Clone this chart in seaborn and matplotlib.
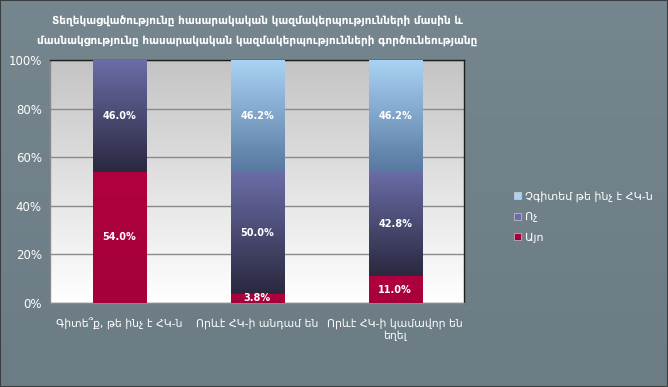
import numpy as np
import pandas as pd
import seaborn as sns
import matplotlib.pyplot as plt
import matplotlib.colors as mcolors
from matplotlib.patches import Patch

categories = ["Գիտե՞ք, թե ինչ է ՀԿ-ն", "Որևէ ՀԿ-ի անդամ են", "Որևէ ՀԿ-ի կամավոր են\nեղել"]
yes_vals = [54.0, 3.8, 11.0]
no_vals = [46.0, 50.0, 42.8]
dont_know_vals = [0.0, 46.2, 46.2]
series_names = ["Այո", "Ոչ", "Չգիտեմ թե ինչ է ՀԿ-ն"]
title = ("Տեղեկացվածությունը հասարակական կազմակերպությունների մասին և\n"
         "մասնակցությունը հասարակական կազմակերպությունների գործունեությանը")

sns.set_theme(style="white")
plt.rcParams['font.family'] = ['DejaVu Sans']

fig = plt.figure(figsize=(6.68, 3.87), dpi=100)
# background of the whole chart
bg = fig.add_axes([0, 0, 1, 1], zorder=-10)
bg_cmap = mcolors.LinearSegmentedColormap.from_list("bg", ["#76868e", "#6b7c84"])
bg.imshow(np.linspace(0, 1, 100).reshape(-1, 1), cmap=bg_cmap, aspect="auto", extent=[0, 1, 0, 1])
bg.set_xlim(0, 1)
bg.set_ylim(0, 1)
bg.axis("off")
fig.patches.append(plt.Rectangle((0, 0), 1, 1, transform=fig.transFigure, fill=False,
                                 edgecolor="#3a3f42", linewidth=1.5))

ax = fig.add_axes([0.075, 0.217, 0.620, 0.628])
ax.set_facecolor("none")

df = pd.DataFrame({
    "category": categories * 3,
    "series": [series_names[0]] * 3 + [series_names[1]] * 3 + [series_names[2]] * 3,
    "value": yes_vals + no_vals + dont_know_vals,
    "bottom": [0] * 3 + yes_vals + [a + b for a, b in zip(yes_vals, no_vals)],
})

gradients = {
    series_names[0]: ["#a5003a", "#b0023e"],
    series_names[1]: ["#2a2940", "#6a6ca6"],
    series_names[2]: ["#5878a0", "#a9d3f5"],
}

for name in series_names:
    sub = df[df["series"] == name]
    sns.barplot(data=sub, x="category", y="value", ax=ax, order=categories,
                bottom=sub["bottom"].to_numpy(), width=0.385, color=gradients[name][0],
                edgecolor="#e8d8e0", linewidth=0.6, zorder=3)

# gradient fill for each bar
names_per_patch = [n for n in series_names for _ in categories]
for patch, name in zip(ax.patches, names_per_patch):
    x0, y0 = patch.get_x(), patch.get_y()
    w, h = patch.get_width(), patch.get_height()
    if h <= 0:
        continue
    cmap = mcolors.LinearSegmentedColormap.from_list(name, gradients[name])
    im = ax.imshow(np.linspace(0, 1, 64).reshape(-1, 1), cmap=cmap, aspect="auto",
                   origin="lower", extent=[x0, x0 + w, y0, y0 + h], zorder=3.5)
    im.set_clip_path(patch)

# value labels
for patch in ax.patches:
    h = patch.get_height()
    if h <= 0:
        continue
    ax.text(patch.get_x() + patch.get_width() / 2, patch.get_y() + h / 2, f"{h:.1f}%",
            ha="center", va="center", color="white", fontsize=7, fontweight="bold", zorder=5)

# plot area gradient
area_cmap = mcolors.LinearSegmentedColormap.from_list("area", ["#ffffff", "#c4c4c4"])
ax.imshow(np.linspace(0, 1, 100).reshape(-1, 1), cmap=area_cmap, aspect="auto",
          origin="lower", extent=[-0.5, 2.5, 0, 100], zorder=0)

ax.set_xlim(-0.5, 2.5)
ax.set_ylim(0, 100)
ax.set_yticks(range(0, 101, 20))
ax.set_yticklabels([f"{v}%" for v in range(0, 101, 20)])
ax.yaxis.grid(True, color="#8a8a8a", linewidth=1, zorder=1)
ax.set_axisbelow(True)
ax.set_xlabel("")
ax.set_ylabel("")
ax.tick_params(axis="y", colors="white", labelsize=8.5, length=0, pad=6)
ax.tick_params(axis="x", colors="white", labelsize=7.8, length=0, pad=11)
for side in ["top", "right"]:
    ax.spines[side].set_color("#1e1e1e")
    ax.spines[side].set_linewidth(1)
for side in ["left", "bottom"]:
    ax.spines[side].set_color("#8a8a8a")
    ax.spines[side].set_linewidth(1)

ax.set_title(title, color="white", fontsize=7.6, fontweight="bold", pad=11, linespacing=2.0)

handles = [Patch(facecolor=gradients[n][1] if n != series_names[0] else gradients[n][0],
                 edgecolor="#dddddd", linewidth=0.4) for n in reversed(series_names)]
leg = fig.legend(handles, list(reversed(series_names)), loc="center left",
                 bbox_to_anchor=(0.755, 0.44), frameon=False, fontsize=8,
                 handlelength=0.6, handleheight=0.6, handletextpad=0.4, labelspacing=0.95)
for t in leg.get_texts():
    t.set_color("white")

fig.savefig("out.png", dpi=100)
